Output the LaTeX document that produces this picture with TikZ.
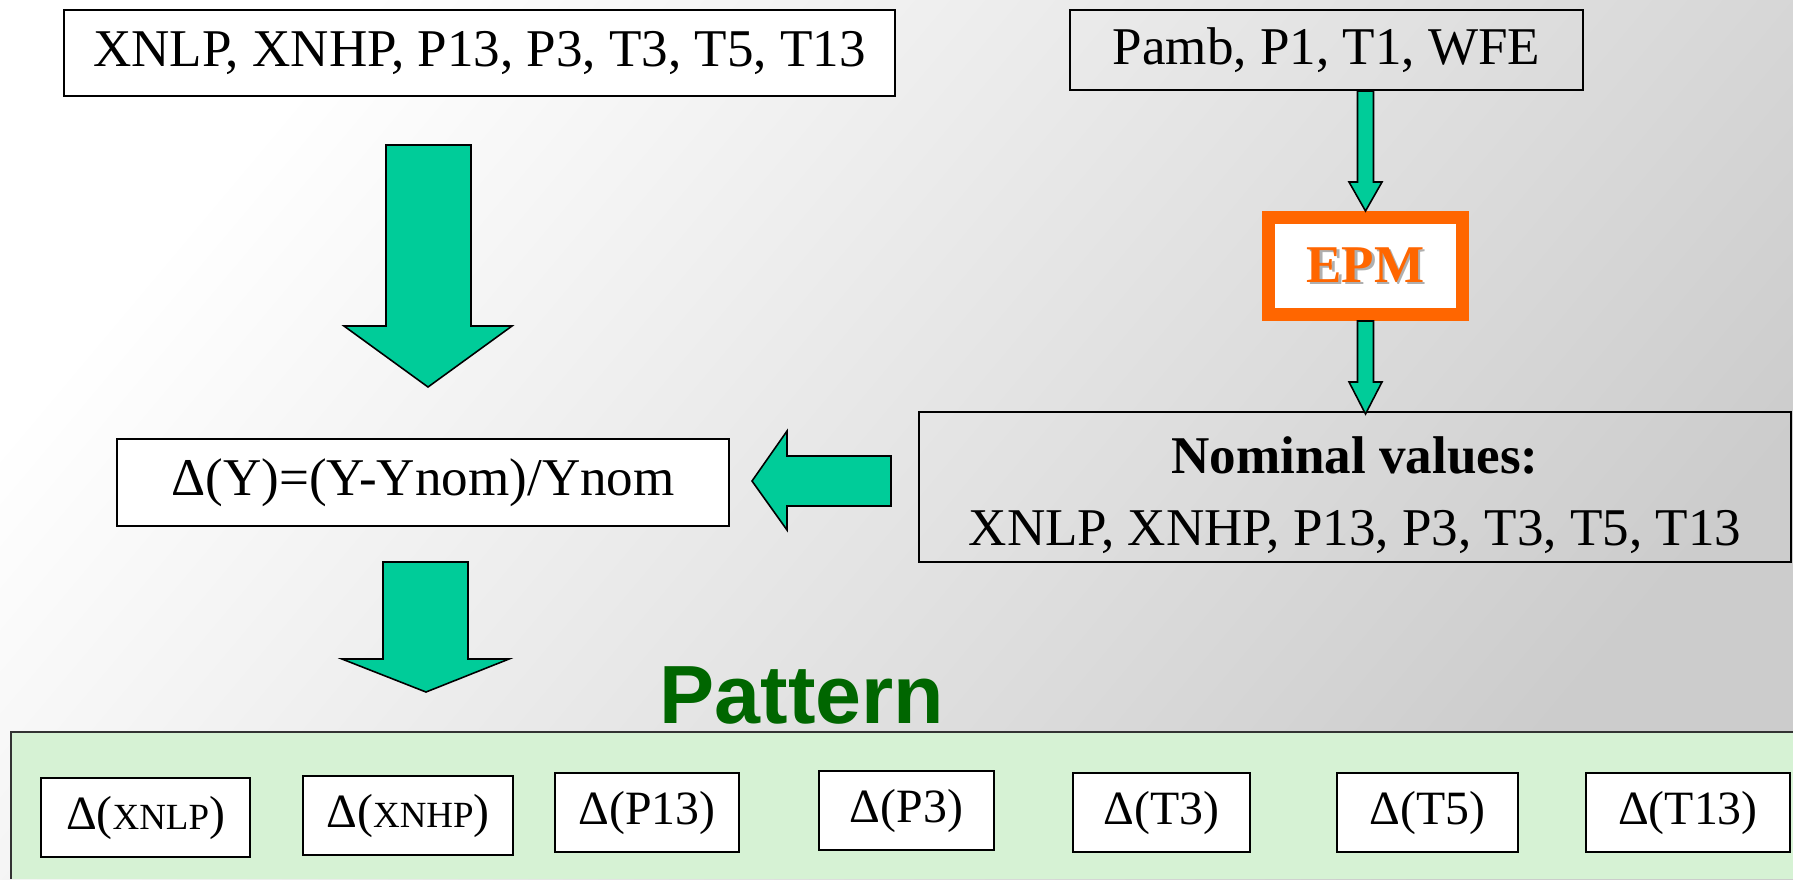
\documentclass[tikz,border=0pt]{standalone}
\usepackage{fontspec}
\setmainfont{Liberation Serif}
\setsansfont{Liberation Sans}
\usetikzlibrary{calc}
\definecolor{arrowgreen}{RGB}{0,204,153}
\definecolor{epmorange}{RGB}{255,102,0}
\definecolor{epmshadow}{RGB}{175,175,175}
\definecolor{patterngreen}{RGB}{0,102,0}
\definecolor{panelgreen}{RGB}{214,242,212}
\definecolor{bgdark}{RGB}{204,204,204}

\begin{document}
\begin{tikzpicture}[
        box/.style={draw, line width=0.6pt, inner sep=0pt, font=\fontsize{15.1}{18}\selectfont},
        smallbox/.style={draw, fill=white, line width=0.6pt, inner sep=0pt, minimum height=0.79cm, font=\fontsize{13.6}{16}\selectfont},
        blockarrow/.style={draw, fill=arrowgreen, line width=0.45pt}]

                % Background
                \useasboundingbox (0,0) rectangle (17.93,-8.79);
                \shade[top color=white, bottom color=bgdark, shading angle=50] (0,0) rectangle (17.93,-8.79);

                % Pattern panel
                \fill[panelgreen] (0.11,-7.32) rectangle (17.93,-8.79);
                \draw[line width=0.8pt, black!80] (0.11,-8.79) |- (17.93,-7.32);

                % Nodes
                \node[box, fill=white, minimum width=8.31cm, minimum height=0.86cm] at (4.795,-0.53) (inputs) {XNLP, XNHP, P13, P3, T3, T5, T13};
                \node[box, minimum width=5.13cm, minimum height=0.80cm] at (13.265,-0.50) (pamb) {Pamb, P1, T1, WFE};
                \node[draw=epmorange, line width=0.13cm, fill=white, inner sep=0pt, minimum width=1.94cm, minimum height=0.97cm,
                    font=\bfseries\fontsize{15.1}{18}\selectfont] at (13.655,-2.66) (epm)
                    {\rlap{\kern0.7pt\raisebox{-0.7pt}{\textcolor{epmshadow}{EPM}}}\textcolor{epmorange}{EPM}};
                \node[box, minimum width=8.72cm, minimum height=1.50cm] at (13.55,-4.87) (nominal) {};
                \node[font=\fontsize{15.1}{20.5}\selectfont, align=center, inner sep=0pt] at ([yshift=-0.08cm]nominal.center) (nominaltext)
                    {\textbf{Nominal values:}\\XNLP, XNHP, P13, P3, T3, T5, T13};
                \node[box, fill=white, minimum width=6.12cm, minimum height=0.87cm] at (4.23,-4.825) (delta) {Δ(Y)=(Y-Ynom)/Ynom};
                \node[font=\sffamily\bfseries\fontsize{23.5}{28}\selectfont, text=patterngreen, anchor=base, inner sep=0pt] at (8.02,-7.23) (pattern) {Pattern};

                \node[smallbox, minimum width=2.09cm] at (1.455,-8.175) (dxnlp) {Δ({\fontsize{10.5}{12}\selectfont XNLP})};
                \node[smallbox, minimum width=2.10cm] at (4.08,-8.155) (dxnhp) {Δ({\fontsize{10.5}{12}\selectfont XNHP})};
                \node[smallbox, minimum width=1.84cm] at (6.47,-8.125) (dp13) {Δ(P13)};
                \node[smallbox, minimum width=1.75cm] at (9.065,-8.105) (dp3) {Δ(P3)};
                \node[smallbox, minimum width=1.77cm] at (11.615,-8.125) (dt3) {Δ(T3)};
                \node[smallbox, minimum width=1.81cm] at (14.275,-8.125) (dt5) {Δ(T5)};
                \node[smallbox, minimum width=2.04cm] at (16.88,-8.125) (dt13) {Δ(T13)};

                % Block arrows
                \draw[blockarrow] (3.86,-1.45) -- (4.71,-1.45) -- (4.71,-3.26) -- (5.12,-3.26) -- (4.28,-3.87)
                    -- (3.44,-3.26) -- (3.86,-3.26) -- cycle;
                \draw[blockarrow] (3.83,-5.62) -- (4.68,-5.62) -- (4.68,-6.59) -- (5.09,-6.59) -- (4.26,-6.92)
                    -- (3.42,-6.59) -- (3.83,-6.59) -- cycle;
                \draw[blockarrow] (8.91,-4.56) -- (8.91,-5.06) -- (7.87,-5.06) -- (7.87,-5.30) -- (7.52,-4.81)
                    -- (7.87,-4.31) -- (7.87,-4.56) -- cycle;

                \coordinate (c1tip) at (epm.north);
                \draw[blockarrow] ($(pamb.south -| c1tip)+(-0.08,0)$) -- ($(pamb.south -| c1tip)+(0.08,0)$)
                    -- ($(c1tip)+(0.08,0.29)$) -- ($(c1tip)+(0.165,0.29)$) -- (c1tip)
                    -- ($(c1tip)+(-0.165,0.29)$) -- ($(c1tip)+(-0.08,0.29)$) -- cycle;

                \coordinate (c2tip) at (epm.south |- nominal.north);
                \draw[blockarrow] ($(epm.south)+(-0.08,0)$) -- ($(epm.south)+(0.08,0)$)
                    -- ($(c2tip)+(0.08,0.29)$) -- ($(c2tip)+(0.165,0.29)$) -- ($(c2tip)+(0,-0.03)$)
                    -- ($(c2tip)+(-0.165,0.29)$) -- ($(c2tip)+(-0.08,0.29)$) -- cycle;
            \end{tikzpicture}
\end{document}
